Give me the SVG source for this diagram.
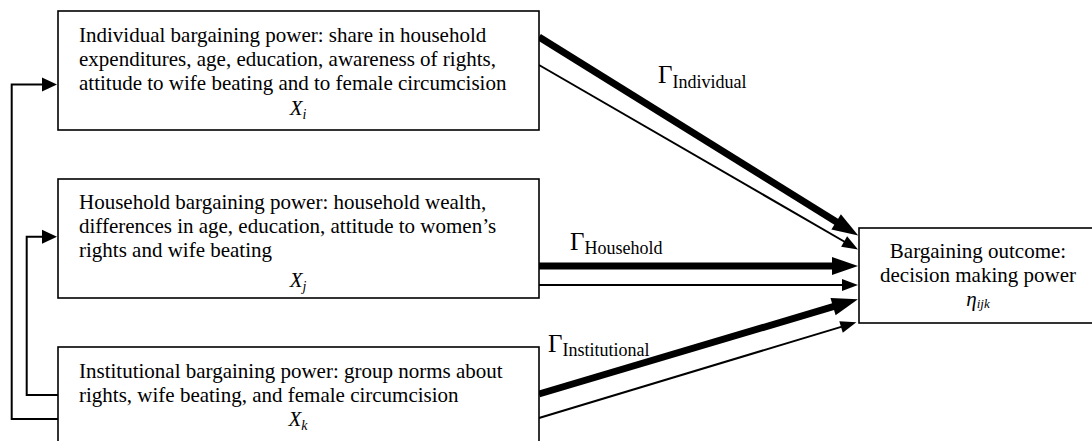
<svg xmlns="http://www.w3.org/2000/svg" width="1092" height="441" viewBox="0 0 1092 441">
<style>
.box{fill:#fff;stroke:#000;stroke-width:1.6}
.t{font-family:"Liberation Serif","Times New Roman",serif;font-size:21px;fill:#000}
.it{font-style:italic}
.g{font-family:"Liberation Serif","Times New Roman",serif;font-size:25px;fill:#000}
.gs{font-size:18px}
.thick{stroke:#000;stroke-width:7;fill:none}
.thin{stroke:#000;stroke-width:2;fill:none}
.fb{stroke:#000;stroke-width:2;fill:none}
</style>
<defs>
<marker id="ahThick" markerUnits="userSpaceOnUse" markerWidth="27" markerHeight="18" refX="1" refY="9" orient="auto" overflow="visible"><path d="M0,0 L26,9 L0,18 z" fill="#000"/></marker>
<marker id="ahThin" markerUnits="userSpaceOnUse" markerWidth="17" markerHeight="12" refX="1" refY="6" orient="auto" overflow="visible"><path d="M0,0 L16,6 L0,12 z" fill="#000"/></marker>
<marker id="ahFb" markerUnits="userSpaceOnUse" markerWidth="16" markerHeight="14" refX="1" refY="7" orient="auto" overflow="visible"><path d="M0,0 L15,7 L0,14 z" fill="#000"/></marker>
</defs>
<g id="connectors">
<line class="thick" x1="539" y1="37" x2="837" y2="222.3" marker-end="url(#ahThick)"/>
<line class="thin" x1="539" y1="65" x2="845" y2="242" marker-end="url(#ahThin)"/>
<line class="thick" x1="539" y1="266" x2="833" y2="266" marker-end="url(#ahThick)"/>
<line class="thin" x1="539" y1="285" x2="843" y2="285" marker-end="url(#ahThin)"/>
<line class="thick" x1="539" y1="394" x2="834" y2="306.4" marker-end="url(#ahThick)"/>
<line class="thin" x1="539" y1="418" x2="842" y2="326.6" marker-end="url(#ahThin)"/>
<polyline class="fb" points="58,419 11.7,419 11.7,84.5 43,84.5" marker-end="url(#ahFb)"/>
<polyline class="fb" points="58,395 26.7,395 26.7,236.7 43,236.7" marker-end="url(#ahFb)"/>
</g>
<g id="labels">
<text class="g" x="658" y="83">Γ<tspan class="gs" dy="5">Individual</tspan></text>
<text class="g" x="570" y="250">Γ<tspan class="gs" dy="4">Household</tspan></text>
<text class="g" x="548" y="352">Γ<tspan class="gs" dy="4">Institutional</tspan></text>
</g>
<g id="node-individual">
<rect class="box" x="58" y="11" width="481" height="119"/>
<text class="t" x="79" y="42">Individual bargaining power: share in household</text>
<text class="t" x="79" y="66">expenditures, age, education, awareness of rights,</text>
<text class="t" x="79" y="90">attitude to wife beating and to female circumcision</text>
<text class="t it" x="298" y="115" text-anchor="middle">X<tspan font-size="14" dy="4">i</tspan></text>
</g>
<g id="node-household">
<rect class="box" x="58" y="179" width="481" height="119"/>
<text class="t" x="79" y="209">Household bargaining power: household wealth,</text>
<text class="t" x="79" y="233">differences in age, education, attitude to women’s</text>
<text class="t" x="79" y="257">rights and wife beating</text>
<text class="t it" x="298" y="287" text-anchor="middle">X<tspan font-size="14" dy="4">j</tspan></text>
</g>
<g id="node-institutional">
<rect class="box" x="58" y="347" width="481" height="100"/>
<text class="t" x="79" y="378">Institutional bargaining power: group norms about</text>
<text class="t" x="79" y="402">rights, wife beating, and female circumcision</text>
<text class="t it" x="298" y="426" text-anchor="middle">X<tspan font-size="14" dy="4">k</tspan></text>
</g>
<g id="node-outcome">
<rect class="box" x="859" y="228" width="240" height="95"/>
<text class="t" x="978" y="258" text-anchor="middle">Bargaining outcome:</text>
<text class="t" x="978" y="282" text-anchor="middle">decision making power</text>
<text class="t it" x="978" y="306" text-anchor="middle" font-size="19">η<tspan font-size="13" dy="2">ijk</tspan></text>
</g>
</svg>
